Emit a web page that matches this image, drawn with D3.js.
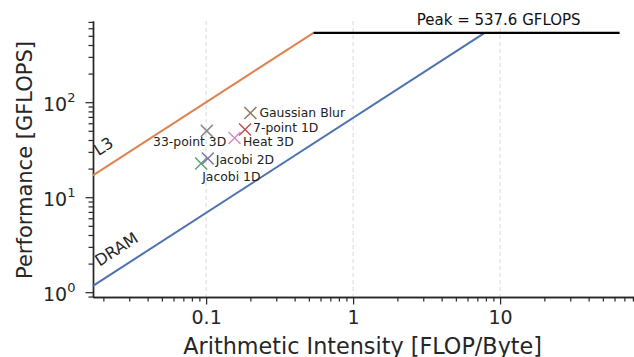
<!DOCTYPE html>
<html>
<head>
<meta charset="utf-8">
<script src="https://cdn.jsdelivr.net/npm/d3@7"></script>
<style>
	body { margin: 0; background: #fff; }
	svg { display: block; font-family: "DejaVu Sans", sans-serif; }
</style>
</head>
<body>
<div id="chart"></div>
<script>
// roofline ceilings (GB/s) and compute peak (GFLOPS)
var ceilingNames = ["DRAM", "L3"];
var ceilingBandwidth = [68.5, 1000];
var peakGflops = 537.6;
var peakEndIntensity = 65;

// measured kernels
var kernelNames = ["Jacobi 1D", "7-point 1D", "Jacobi 2D", "Gaussian Blur", "Heat 3D", "33-point 3D"];
var kernelIntensity = [0.0925, 0.184, 0.1027, 0.2, 0.156, 0.101];
var kernelGflops = [22.6, 51.6, 25.5, 77, 42, 49.9];

var xTickValues = [0.1, 1, 10];
var xTickLabels = ["0.1", "1", "10"];
var yTickValues = [1, 10, 100];

var palette = ["#4C72B0", "#DD8452", "#55A868", "#C44E52", "#8172B3", "#937860", "#DA8BC3", "#8C8C8C"];
var textColor = "#262626";

// label placement relative to each marker (layout only)
var labelOffset = {
	"Jacobi 1D": { dx: 1, dy: 17, anchor: "start" },
	"7-point 1D": { dx: 8, dy: 3, anchor: "start" },
	"Jacobi 2D": { dx: 8, dy: 5, anchor: "start" },
	"Gaussian Blur": { dx: 9, dy: 4.5, anchor: "start" },
	"Heat 3D": { dx: 8.5, dy: 8, anchor: "start" },
	"33-point 3D": { dx: 19.5, dy: 15, anchor: "end" },
};

var width = 634;
var height = 357;
var left = 93;
var bottom = 297;
var xMin = 0.017, xMax = 100;
var yMin = 0.89, yMax = 715;

var xScale = d3.scaleLog().domain([xMin, xMax]).range([left, left + 147 * Math.log10(xMax / xMin)]);
var yScale = d3.scaleLog().domain([yMin, yMax]).range([bottom, bottom - 95 * Math.log10(yMax / yMin)]);

var svg = d3.select("#chart").append("svg").attr("width", width).attr("height", height);

function minorTicks(lo, hi) {
	var out = [];
	for (var e = -3; e <= 3; e++) {
		for (var m = 1; m <= 9; m++) {
			var v = m * Math.pow(10, e);
			if (m > 1 && v >= lo && v <= hi) out.push(v);
		}
	}
	return out;
}

// vertical dashed grid at major x ticks
svg.append("g")
	.selectAll("line")
	.data(xTickValues)
	.enter()
	.append("line")
	.attr("x1", (d) => xScale(d))
	.attr("x2", (d) => xScale(d))
	.attr("y1", yScale(yMax))
	.attr("y2", bottom)
	.style("stroke", "#d9d9d9")
	.style("stroke-width", 1)
	.style("stroke-dasharray", "4,3");

// x axis
var xMinorAxis = d3.axisBottom(xScale).tickValues(minorTicks(xMin, xMax)).tickSize(4.5).tickSizeOuter(0).tickFormat("");
var xAxis = d3.axisBottom(xScale).tickValues(xTickValues).tickSize(7.5).tickSizeOuter(0).tickPadding(6)
	.tickFormat((d, i) => xTickLabels[i]);

svg.append("g").attr("transform", "translate(0," + bottom + ")").call(xMinorAxis);
svg.append("g").attr("class", "xAxis").attr("transform", "translate(0," + bottom + ")").call(xAxis);

// y axis
var yMinorAxis = d3.axisLeft(yScale).tickValues(minorTicks(yMin, yMax)).tickSize(4.5).tickSizeOuter(0).tickFormat("");
var yAxis = d3.axisLeft(yScale).tickValues(yTickValues).tickSize(7.5).tickSizeOuter(0).tickPadding(10).tickFormat("");

svg.append("g").attr("transform", "translate(" + left + ",0)").call(yMinorAxis);
var yg = svg.append("g").attr("class", "yAxis").attr("transform", "translate(" + left + ",0)").call(yAxis);

yg.selectAll(".tick text")
	.attr("dy", 8)
	.each(function (d) {
		var t = d3.select(this);
		t.append("tspan").text("10");
		t.append("tspan").attr("dy", -8.3).style("font-size", "13px").text(Math.round(Math.log10(d)));
	});

svg.selectAll(".domain").style("stroke", textColor).style("stroke-width", 1.4);
svg.selectAll(".tick line").style("stroke", textColor).style("stroke-width", 1.2);
svg.selectAll(".tick text").style("fill", textColor).style("font-size", "19px").style("font-family", "DejaVu Sans");

// axis titles
svg.append("text")
	.attr("x", 362.7)
	.attr("y", 353.5)
	.style("text-anchor", "middle")
	.style("font-size", "22.3px")
	.style("fill", textColor)
	.text("Arithmetic Intensity [FLOP/Byte]");

svg.append("text")
	.attr("transform", "translate(31.5,160) rotate(-90)")
	.style("text-anchor", "middle")
	.style("font-size", "21px")
	.style("fill", textColor)
	.text("Performance [GFLOPS]");

// bandwidth ceilings
var angle = -Math.atan2(yScale(1) - yScale(10), xScale(10) - xScale(1)) * 180 / Math.PI;
var labelX = [0.0188, 0.0185];
var labelLift = [15, 15.6];

for (var i = 0; i < ceilingNames.length; i++) {
	var bw = ceilingBandwidth[i];
	var ridge = peakGflops / bw;
	var pts = [[xMin, bw * xMin], [ridge, peakGflops]];
	var line = d3.line()
		.x((d) => xScale(d[0]))
		.y((d) => yScale(d[1]));

	svg.append("path")
		.datum(pts)
		.attr("d", line)
		.style("fill", "none")
		.style("stroke", palette[i])
		.style("stroke-width", 2);

	var lx = xScale(labelX[i]);
	var ly = yScale(bw * labelX[i]) - labelLift[i];
	svg.append("text")
		.attr("transform", "translate(" + lx + "," + ly + ") rotate(" + angle + ")")
		.style("font-size", "16px")
		.style("fill", textColor)
		.text(ceilingNames[i]);
}

// compute peak
var l3Ridge = peakGflops / d3.max(ceilingBandwidth);
svg.append("line")
	.attr("x1", xScale(l3Ridge))
	.attr("x2", xScale(peakEndIntensity))
	.attr("y1", yScale(peakGflops))
	.attr("y2", yScale(peakGflops))
	.style("stroke", "#000")
	.style("stroke-width", 2.2);

svg.append("text")
	.attr("x", 498.7)
	.attr("y", yScale(peakGflops) - 7.5)
	.style("text-anchor", "middle")
	.style("font-size", "15px")
	.style("fill", "#111")
	.text("Peak = " + peakGflops + " GFLOPS");

// kernels
var kernels = kernelNames.map((n, i) => ({ name: n, x: kernelIntensity[i], y: kernelGflops[i], color: palette[i + 2] }));
var r = 6;

var kg = svg.selectAll(".kernel").data(kernels).enter().append("g")
	.attr("class", "kernel")
	.attr("transform", (d) => "translate(" + xScale(d.x) + "," + yScale(d.y) + ")");

kg.append("path")
	.attr("d", "M" + -r + "," + -r + "L" + r + "," + r + "M" + -r + "," + r + "L" + r + "," + -r)
	.style("stroke", (d) => d.color)
	.style("stroke-width", 1.5)
	.style("fill", "none");

kg.append("text")
	.attr("x", (d) => labelOffset[d.name].dx)
	.attr("y", (d) => labelOffset[d.name].dy)
	.style("text-anchor", (d) => labelOffset[d.name].anchor)
	.style("font-size", "12.4px")
	.style("fill", "#222")
	.text((d) => d.name);
</script>
</body>
</html>
